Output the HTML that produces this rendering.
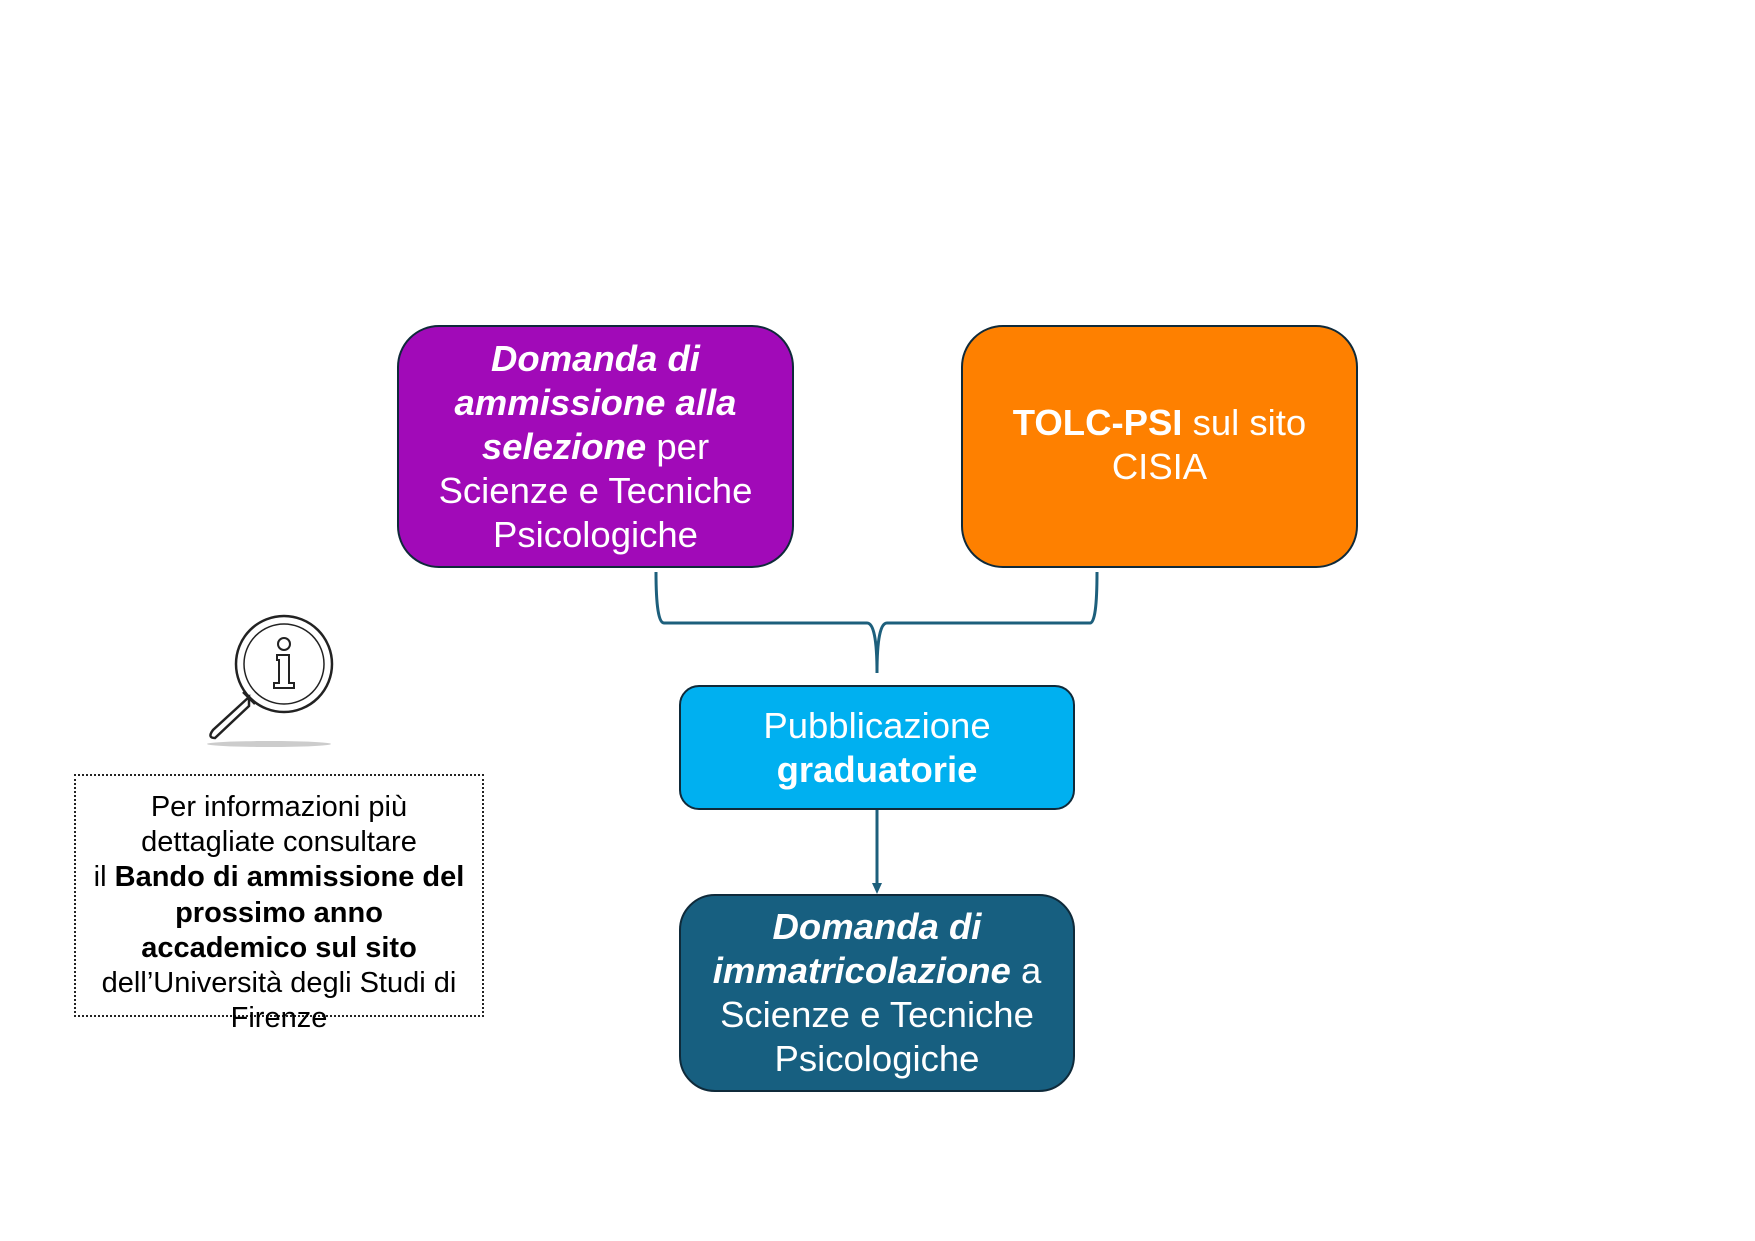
<!DOCTYPE html>
<html><head><meta charset="utf-8"><style>
body{margin:0;width:1755px;height:1241px;background:#fff;position:relative;font-family:"Liberation Sans",Arial,sans-serif;overflow:hidden}
.b{position:absolute;box-sizing:border-box;border:2.5px solid #0f2a3a;display:flex;align-items:center;justify-content:center;text-align:center;color:#fff;font-size:36.5px;line-height:44px}
.info{position:absolute;left:74px;top:774px;width:410px;height:243px;box-sizing:border-box;border:2px dotted #222;text-align:center;font-size:29px;line-height:35.2px;padding-top:14px;color:#000;white-space:nowrap}
</style></head><body>
<div class="b" style="left:397px;top:325px;width:397px;height:243px;background:#a10ab8;border-radius:42px"><div><b><i>Domanda di<br>ammissione alla<br>selezione</i></b> per<br>Scienze e Tecniche<br>Psicologiche</div></div>
<div class="b" style="left:961px;top:325px;width:397px;height:243px;background:#fe8000;border-radius:42px"><div style="margin-top:-4px"><b>TOLC-PSI</b> sul sito<br>CISIA</div></div>
<div class="b" style="left:679px;top:685px;width:396px;height:125px;background:#00b0f0;border-radius:20px"><div><span>Pubblicazione</span><br><b>graduatorie</b></div></div>
<div class="b" style="left:679px;top:894px;width:396px;height:198px;background:#175f80;border-radius:36px"><div><b><i>Domanda di<br>immatricolazione</i></b> a<br>Scienze e Tecniche<br>Psicologiche</div></div>
<svg width="1755" height="1241" style="position:absolute;left:0;top:0" fill="none">
<path d="M656 572 Q656 623 664 623 L867 623 Q877 623 877 673 M877 673 Q877 623 887 623 L1090 623 Q1097 623 1097 572" stroke="#1d5f7c" stroke-width="3"/>
<line x1="877" y1="810" x2="877" y2="885" stroke="#1d5f7c" stroke-width="3"/>
<path d="M872 883 L877 894 L882 883Z" fill="#1d5f7c"/>
<ellipse cx="269" cy="744" rx="62" ry="3" fill="#ccc"/>
<circle cx="284" cy="664" r="48" stroke="#222" stroke-width="2.5"/>
<circle cx="284" cy="664" r="40" stroke="#222" stroke-width="1.5"/>
<circle cx="284" cy="644" r="6" stroke="#222" stroke-width="2"/>
<path d="M277 655 h12 v28 h5 v5 h-20 v-5 h5 v-23 h-2z" stroke="#222" stroke-width="2"/>
<path d="M249 697 L213 730 Q207 738 215 738 L249 706 Z" stroke="#222" stroke-width="2.5" fill="#fff"/>
<path d="M243 692 L255 704" stroke="#222" stroke-width="2.5"/>
</svg>
<div class="info">Per informazioni più<br>dettagliate consultare<br>il <b>Bando di ammissione del<br>prossimo anno<br>accademico sul sito</b><br>dell’Università degli Studi di<br>Firenze</div>
</body></html>
